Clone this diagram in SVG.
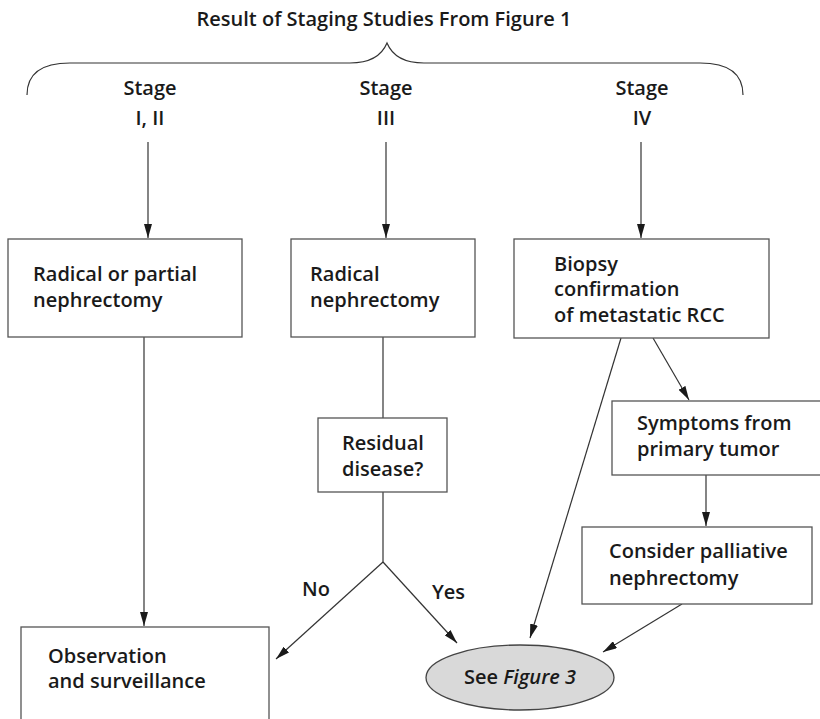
<svg xmlns="http://www.w3.org/2000/svg" width="820" height="719" viewBox="0 0 820 719">
<style>
.t{font-family:"Open Sans","Liberation Sans",sans-serif;font-weight:600;fill:#1a1a1a}
.box{fill:#fff;stroke:#555;stroke-width:1.3}
.ln{fill:none;stroke:#333;stroke-width:1.2}
.arr{fill:none;stroke:#333;stroke-width:1.2;marker-end:url(#ah)}
</style>
<defs>
<marker id="ah" viewBox="0 0 14 8" refX="14" refY="4" markerWidth="14" markerHeight="8" markerUnits="userSpaceOnUse" orient="auto">
<path d="M0,0 L14,4 L0,8 Z" fill="#1a1a1a"/>
</marker>
</defs>
<rect width="820" height="719" fill="#fff"/>
<g id="title">
<text class="t" x="384" y="26" font-size="20" text-anchor="middle">Result of Staging Studies From Figure 1</text>
<path class="ln" d="M27,95 C27,75 40,63 70,63 L350,63 C372,63 382,55 387,43 C392,55 402,63 424,63 L700,63 C730,63 743,75 743,95"/>
</g>
<g id="stage12">
<text class="t" x="150" y="95" font-size="20" text-anchor="middle">Stage</text>
<text class="t" x="150" y="125" font-size="20" text-anchor="middle">I, II</text>
</g>
<g id="stage3">
<text class="t" x="386" y="95" font-size="20" text-anchor="middle">Stage</text>
<text class="t" x="386" y="125" font-size="20" text-anchor="middle">III</text>
</g>
<g id="stage4">
<text class="t" x="642" y="95" font-size="20" text-anchor="middle">Stage</text>
<text class="t" x="642" y="125" font-size="20" text-anchor="middle">IV</text>
</g>
<g id="connectors">
<line class="arr" x1="148" y1="142" x2="148" y2="238"/>
<line class="arr" x1="386" y1="142" x2="386" y2="238"/>
<line class="arr" x1="641" y1="142" x2="641" y2="238"/>
<line class="arr" x1="144" y1="337" x2="144" y2="626"/>
<line class="ln" x1="383" y1="337" x2="383" y2="418"/>
<polyline class="ln" points="383,492 383,562"/>
<line class="arr" x1="383" y1="562" x2="276" y2="659"/>
<line class="arr" x1="383" y1="562" x2="457" y2="643"/>
<line class="arr" x1="621" y1="338" x2="530" y2="638"/>
<line class="arr" x1="653" y1="338" x2="689" y2="400"/>
<line class="arr" x1="706" y1="475" x2="706" y2="526"/>
<line class="arr" x1="682" y1="604" x2="603" y2="652"/>
<text class="t" x="302" y="596" font-size="20">No</text>
<text class="t" x="432" y="599" font-size="20">Yes</text>
</g>
<g id="n-radical-partial">
<rect class="box" x="8" y="239" width="234" height="98"/>
<text class="t" x="33" y="281" font-size="20">Radical or partial</text>
<text class="t" x="33" y="307" font-size="20">nephrectomy</text>
</g>
<g id="n-radical">
<rect class="box" x="291" y="239" width="184" height="98"/>
<text class="t" x="310" y="281" font-size="20">Radical</text>
<text class="t" x="310" y="307" font-size="20">nephrectomy</text>
</g>
<g id="n-biopsy">
<rect class="box" x="514" y="239" width="255" height="99"/>
<text class="t" x="554" y="271" font-size="20">Biopsy</text>
<text class="t" x="554" y="296" font-size="20">confirmation</text>
<text class="t" x="554" y="322" font-size="20">of metastatic RCC</text>
</g>
<g id="n-residual">
<rect class="box" x="318" y="418" width="129" height="74"/>
<text class="t" x="342" y="450" font-size="20">Residual</text>
<text class="t" x="342" y="476" font-size="20">disease?</text>
</g>
<g id="n-symptoms">
<rect class="box" x="612" y="401" width="220" height="74"/>
<text class="t" x="637" y="430" font-size="20">Symptoms from</text>
<text class="t" x="637" y="456" font-size="20">primary tumor</text>
</g>
<g id="n-palliative">
<rect class="box" x="582" y="527" width="230" height="77"/>
<text class="t" x="609" y="558" font-size="20">Consider palliative</text>
<text class="t" x="609" y="585" font-size="20">nephrectomy</text>
</g>
<g id="n-observation">
<rect class="box" x="21" y="627" width="248" height="100"/>
<text class="t" x="48" y="663" font-size="20">Observation</text>
<text class="t" x="48" y="688" font-size="20">and surveillance</text>
</g>
<g id="n-figure3">
<ellipse cx="520" cy="677.5" rx="94" ry="32.5" fill="#d9d9d9" stroke="#444" stroke-width="1.3"/>
<text class="t" x="520" y="684" font-size="20" text-anchor="middle">See <tspan font-style="italic">Figure 3</tspan></text>
</g>
</svg>
